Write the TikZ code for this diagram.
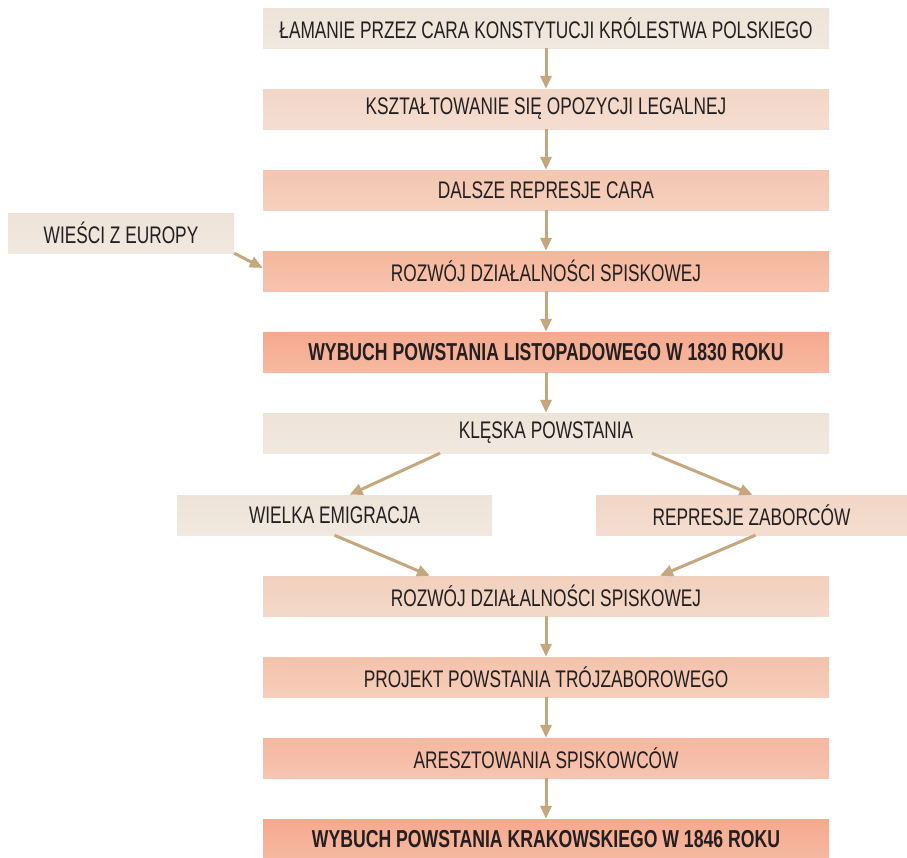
\documentclass[tikz,border=0pt]{standalone}
\usepackage{fontspec}
\setmainfont{Liberation Sans}[FakeStretch=0.72]
\usetikzlibrary{arrows.meta}
\definecolor{txt}{HTML}{231F20}
\definecolor{arr}{HTML}{C6A77D}
\definecolor{cA}{HTML}{EEE3D8}
\definecolor{cB}{HTML}{F2D6C6}
\definecolor{cC}{HTML}{F3C6B0}
\definecolor{cD}{HTML}{F5B69C}
\definecolor{cE}{HTML}{F5A98D}
\definecolor{cF}{HTML}{F1D0BD}
\definecolor{cG}{HTML}{F3C3AB}
\definecolor{cH}{HTML}{F5B79F}
\tikzset{
  stepbox/.style={minimum width=566pt, minimum height=40pt, inner sep=0pt,
    font=\fontsize{24pt}{26pt}\selectfont, text=txt, anchor=center},
  sidebox/.style={stepbox},
  fillbox/.style={top color=#1, bottom color=#1!82!white},
  boldbox/.style={font=\fontsize{24.5pt}{26pt}\selectfont\bfseries},
  arrline/.style={draw=arr, line width=3pt, -{Triangle[length=13pt,width=11pt]}}
}
\begin{document}
\begin{tikzpicture}[x=1pt,y=-1pt]
\useasboundingbox[fill=white] (0,0) rectangle (907,857);
\node[stepbox, fillbox=cA] (r1) at (546,28) {ŁAMANIE PRZEZ CARA KONSTYTUCJI KRÓLESTWA POLSKIEGO};
\node[stepbox, fillbox=cB] (r2) at (546,109) {KSZTAŁTOWANIE SIĘ OPOZYCJI LEGALNEJ};
\node[stepbox, fillbox=cC] (r3) at (546,190) {DALSZE REPRESJE CARA};
\node[stepbox, fillbox=cD] (r4) at (546,271) {ROZWÓJ DZIAŁALNOŚCI SPISKOWEJ};
\node[stepbox, boldbox, fillbox=cE] (r5) at (546,352) {WYBUCH POWSTANIA LISTOPADOWEGO W 1830 ROKU};
\node[stepbox, fillbox=cA] (r6) at (546,433) {KLĘSKA POWSTANIA};
\node[sidebox, minimum width=226pt, fillbox=cA] (wi) at (121,233) {WIEŚCI Z EUROPY};
\node[sidebox, minimum width=315pt, fillbox=cA] (we) at (334.5,515) {WIELKA EMIGRACJA};
\node[sidebox, minimum width=311pt, fillbox=cB] (rz) at (751.5,515) {REPRESJE ZABORCÓW};
\node[stepbox, fillbox=cF] (r7) at (546,596) {ROZWÓJ DZIAŁALNOŚCI SPISKOWEJ};
\node[stepbox, fillbox=cG] (r8) at (546,677) {PROJEKT POWSTANIA TRÓJZABOROWEGO};
\node[stepbox, fillbox=cH] (r9) at (546,758) {ARESZTOWANIA SPISKOWCÓW};
\node[stepbox, boldbox, fillbox=cE] (r10) at (546,839) {WYBUCH POWSTANIA KRAKOWSKIEGO W 1846 ROKU};

\draw[arrline] (r1.south) -- (r2.north);
\draw[arrline] (r2.south) -- (r3.north);
\draw[arrline] (r3.south) -- (r4.north);
\draw[arrline] (r4.south) -- (r5.north);
\draw[arrline] (r5.south) -- (r6.north);
\draw[arrline] (wi.south east) -- ([yshift=3pt]r4.west);
\draw[arrline] ([xshift=-106pt]r6.south) -- ([xshift=15pt]we.north);
\draw[arrline] ([xshift=106pt]r6.south) -- ([xshift=1pt]rz.north);
\draw[arrline] (we.south) -- ([xshift=-116pt]r7.north);
\draw[arrline] ([xshift=4pt]rz.south) -- ([xshift=114pt]r7.north);
\draw[arrline] (r7.south) -- (r8.north);
\draw[arrline] (r8.south) -- (r9.north);
\draw[arrline] (r9.south) -- (r10.north);
\end{tikzpicture}
\end{document}
